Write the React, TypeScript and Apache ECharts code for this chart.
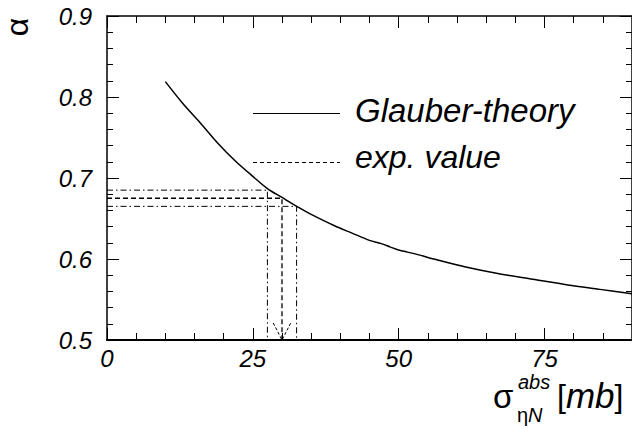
import React, { useEffect, useRef } from "react";
import * as echarts from "echarts";

// Glauber-theory curve: sigma (mb) vs alpha
const theorySigma = [10, 13, 16, 19, 22, 25, 27.5, 30, 33, 35, 39, 42, 45, 47, 48.5, 50, 53, 56, 61.5, 67, 73, 79, 84.5, 90];
const theoryAlpha = [0.819, 0.792, 0.768, 0.743, 0.721, 0.702, 0.687, 0.676, 0.663, 0.655, 0.641, 0.632, 0.623, 0.619, 0.615, 0.611, 0.606, 0.6, 0.59, 0.582, 0.575, 0.568, 0.5625, 0.557];

// experimental value and its band
const expAlpha = 0.675;
const expAlphaHigh = 0.685;
const expAlphaLow = 0.665;
const sigmaCenter = 30;
const sigmaLow = 27.5;
const sigmaHigh = 32.5;
const arrowSigma = [28.5, 30, 31.5];
const arrowAlpha = [0.521, 0.5, 0.521];

const xMin = 0;
const xMax = 90;
const yMin = 0.5;
const yMax = 0.9;
const xLabelValues = [0, 25, 50, 75];

const FONT = "'Liberation Sans', Arial, Helvetica, sans-serif";

export default function App() {
  const ref = useRef<HTMLDivElement>(null);
  useEffect(() => {
    if (!ref.current) return;
    const chart = echarts.init(ref.current, undefined, { renderer: "svg" });
    const labelStyle = {
      fontFamily: FONT,
      fontStyle: "italic" as const,
      fontSize: 24,
      color: "#000",
    };
    const mkX = (position: "bottom" | "top", interval: number, len: number, labels: boolean, line: boolean, lineW: number) => ({
      type: "value" as const,
      position,
      min: xMin,
      max: xMax,
      interval,
      gridIndex: 0,
      axisLine: { show: line, onZero: false, lineStyle: { color: "#000", width: lineW } },
      axisTick: { show: true, inside: true, length: len, lineStyle: { color: "#000", width: 1 } },
      axisLabel: labels
        ? {
            show: true,
            ...labelStyle,
            margin: 6,
            showMaxLabel: false,
            formatter: (v: number) => (xLabelValues.includes(v) ? String(v) : ""),
          }
        : { show: false },
      splitLine: { show: false },
    });
    const mkY = (position: "left" | "right", labels: boolean) => ({
      type: "value" as const,
      position,
      min: yMin,
      max: yMax,
      interval: 0.1,
      axisLine: { show: true, onZero: false, lineStyle: { color: "#000", width: 1.5 } },
      axisTick: { show: true, inside: true, length: 12, lineStyle: { color: "#000", width: 1 } },
      minorTick: { show: true, splitNumber: 5, length: 6, lineStyle: { color: "#000", width: 1 } },
      axisLabel: labels
        ? { show: true, ...labelStyle, margin: 15, formatter: (v: number) => v.toFixed(1) }
        : { show: false },
      splitLine: { show: false },
    });

    const theoryData = theorySigma.map((s, i) => [s, theoryAlpha[i]]);
    const dashDot = [6, 3, 1.5, 3];

    chart.setOption({
      animation: false,
      backgroundColor: "#fff",
      grid: { left: 107, top: 16, right: 0, bottom: 88, containLabel: false },
      xAxis: [
        mkX("bottom", 25, 12, true, true, 2),
        mkX("bottom", 5, 7, false, false, 1),
        mkX("top", 25, 12, false, true, 1.5),
        mkX("top", 5, 7, false, false, 1),
      ],
      yAxis: [mkY("left", true), mkY("right", false)],
      series: [
        {
          name: "Glauber-theory",
          type: "line",
          data: theoryData,
          smooth: 0.3,
          showSymbol: false,
          lineStyle: { color: "#000", width: 1.5 },
        },
        {
          name: "exp. value",
          type: "line",
          data: [
            [xMin, expAlpha],
            [sigmaCenter, expAlpha],
            [sigmaCenter, yMin],
          ],
          showSymbol: false,
          lineStyle: { color: "#000", width: 1.3, type: [5, 3] },
        },
        {
          name: "upper",
          type: "line",
          data: [
            [xMin, expAlphaHigh],
            [sigmaLow, expAlphaHigh],
            [sigmaLow, yMin],
          ],
          showSymbol: false,
          lineStyle: { color: "#000", width: 1, type: dashDot },
        },
        {
          name: "lower",
          type: "line",
          data: [
            [xMin, expAlphaLow],
            [sigmaHigh, expAlphaLow],
            [sigmaHigh, yMin],
          ],
          showSymbol: false,
          lineStyle: { color: "#000", width: 1, type: dashDot },
        },
        {
          name: "arrow",
          type: "line",
          data: arrowSigma.map((s, i) => [s, arrowAlpha[i]]),
          showSymbol: false,
          lineStyle: { color: "#000", width: 1, type: [3, 2] },
        },
      ],
      graphic: [
        {
          type: "line",
          shape: { x1: 253, y1: 113.5, x2: 340, y2: 113.5 },
          style: { stroke: "#000", lineWidth: 1.2 },
        },
        {
          type: "line",
          shape: { x1: 253, y1: 162.5, x2: 340, y2: 162.5 },
          style: { stroke: "#000", lineWidth: 1, lineDash: [4, 3] },
        },
        {
          type: "text",
          x: 355,
          y: 110.5,
          style: { text: "Glauber-theory", fontFamily: FONT, fontStyle: "italic", fontSize: 33, fill: "#000", verticalAlign: "middle", align: "left" },
        },
        {
          type: "text",
          x: 355,
          y: 157,
          style: { text: "exp. value", fontFamily: FONT, fontStyle: "italic", fontSize: 32, fill: "#000", verticalAlign: "middle", align: "left" },
        },
        {
          type: "text",
          x: 17,
          y: 27,
          rotation: Math.PI / 2,
          style: { text: "α", fontFamily: FONT, fontSize: 32, fill: "#000", verticalAlign: "middle", align: "center" },
        },
        {
          type: "text",
          x: 493,
          y: 396,
          style: { text: "σ", fontFamily: FONT, fontSize: 33, fill: "#000", verticalAlign: "middle", align: "left" },
        },
        {
          type: "text",
          x: 518,
          y: 381.5,
          style: { text: "abs", fontFamily: FONT, fontStyle: "italic", fontSize: 20, fill: "#000", verticalAlign: "middle", align: "left" },
        },
        {
          type: "text",
          x: 517,
          y: 414.5,
          style: {
            text: "{a|η}{b|N}",
            fontFamily: FONT,
            fontSize: 20,
            fill: "#000",
            verticalAlign: "middle",
            align: "left",
            rich: {
              a: { fontFamily: FONT, fontSize: 20, fill: "#000" },
              b: { fontFamily: FONT, fontSize: 20, fontStyle: "italic", fill: "#000" },
            },
          },
        },
        {
          type: "text",
          x: 557,
          y: 395.5,
          style: {
            text: "{a|[}{b|mb}{a|]}",
            fontFamily: FONT,
            fontSize: 32,
            fill: "#000",
            verticalAlign: "middle",
            align: "left",
            rich: {
              a: { fontFamily: FONT, fontSize: 32, fill: "#000" },
              b: { fontFamily: FONT, fontSize: 35, fontStyle: "italic", fill: "#000" },
            },
          },
        },
      ],
    });
    return () => chart.dispose();
  }, []);
  return (
    <div
      ref={ref}
      style={{ position: "absolute", left: 0, top: 0, width: 632, height: 428 }}
    />
  );
}
